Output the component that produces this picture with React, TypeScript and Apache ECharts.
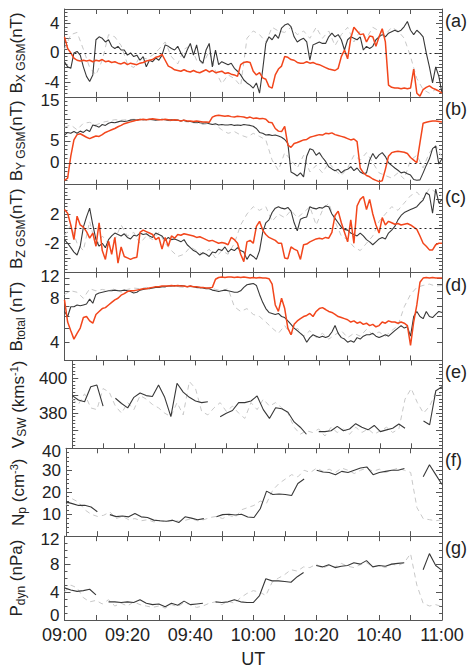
import React, { useEffect, useRef } from 'react';
import * as echarts from 'echarts';

const FONT = '"Liberation Sans", Arial, sans-serif';
const INK = '#222222';
const FRAME = '#555555';
const BLACK_LINE = '#383838';
const RED_LINE = '#f2461c';
const GRAY_LINE = '#c8c8c8';

const timeLabels = ['09:00', '09:20', '09:40', '10:00', '10:20', '10:40', '11:00'];

// (a) Bx GSM, 1-min samples (black, red) and 2-min samples (gray dashed)
const bxBlack = [
  -1.2, -1.9, -2.1, 0, 0.2, -0.3, -1.9, -3.2, -3.9, -3.0,
  1.8, 2.2, 2.0, 1.5, 1.8, 0.9, 0.6, 0.9, 0.4, 0.4,
  -0.3, 0, -0.5, -0.3, -1, -0.5, -1.9, -1, -1.2, -0.7,
  -1, -0.3, 1.1, 0.9, 0.6, 0.4, 0.9, 0, -0.7, 0.4,
  1.3, -0.3, 1.1, -1, -1.4, 0.4, 1.3, -1.9, 0.4, -1.6,
  -1.2, -1.4, -1.6, -1.4, -2.1, -2.5, -3, -3.7, -4.1, -4.4,
  -4.8, -4.1, -5.5, -2.3, 1.3, 2.2, 1.8, 2.5, 2, 3.4,
  3.8, 4, 3.6, 2.2, 1.5, 1.8, 2, 1.5, -1, 1.1,
  1.3, 1.5, 1.3, 1.3, 2.2, 2.7, 2.2, 2.5, 1.8, 0.4,
  1.8, 2.2, 2, 1.8, 2.2, 0.4, 0.9, 0.6, 0.9, 1.8,
  2.2, 2.5, 2.2, 2.7, 2.9, 3.1, 2.9, 3.1, 3.6, 4.3,
  3.1, 2.5, 3.1, 2.7, 2.2, 0, -1.9, -4.1, -1.9, -3.2, -5.5,
];
const bxRed = [
  2.2, 0.6, 0, -0.7, -1, -1.1, -1, -1.1, -1, -1.2,
  -1, -1.1, -0.9, -1.2, -1.1, -1.3, -1.2, -1.4, -1.5, -1.3,
  -1.6, -1.4, -1.5, -1.6, -1.4, -1.3, -1.1, -1.0, -0.9, -0.6,
  -0.5, -0.2, -1.0, -1.8, -2.0, -2.3, -2.4, -2.5, -2.3, -2.5,
  -2.6, -2.4, -2.6, -2.7, -2.5, -2.3, -2.6, -2.4, -2.7, -2.6,
  -2.5, -2.8, -2.7, -2.9, -3.0, -3.2, -1.6, -1.3, -1.2, -1.3,
  -2.5, -3.0, -2.7, -3.4, -3.6, -4.6, -4.8, -3.0, -2.2, -1.8,
  -0.5, -0.6, -0.9, -1.0, -1.3, -1.4, -1.4, -1.2, -1.4, -1.3,
  -1.5, -1.6, -1.8, -2.0, -2.2, -2.3, -2.4, -2.1, -0.5, 0.4,
  -0.8, 2.0, 3.5, 3.0, 2.5, 2.6, 1.5, 2.3, 2.2, 0.9,
  2.2, 3.3, 1.5, -4.4, -4.7, -4.8, -4.8, -4.9, -4.8, -4.9,
  -4.8, -2.2, -5.5, -5.9, -5.0, -4.7, -4.5, -4.8, -5.0, -5.2, -5.5,
];
const bxGray = [
  0.5, 2.5, 2.8, 0.5, -2, -3, -1, 2.5, 2.2, 1.0,
  -1.5, -2, -0.5, -0.8, -0.3, 0.5, 1.5, -0.5, -1.5, 0.5,
  1.0, -1.0, -1.5, 0.2, -2.5, -4.2, -3, -3.5, -4.5, 2.0,
  3.0, 2.5, 1.5, 3.5, 3.0, 2.8, 3.5, 2.5, 3.0, 2.0,
  3.5, 2.0, 3.0, 1.0, 2.5, 3.5, 1.5, 3.0, 2.0, 3.5,
  3.0, 2.5, 3.5, 3.0, 2.0, -0.5, -3.5, -5.0, -5.5, -5.0,
  -5.5,
];

// (b) By GSM
const byBlack = [
  6.3, 6.9, 6.7, 7.1, 6.7, 7.2, 6.9, 7.5, 7.1, 8.6,
  8.4, 8.1, 8.7, 8.5, 9.0, 9.2, 9.1, 9.3, 9.5, 9.4,
  9.5, 9.7, 9.8, 9.7, 9.9, 9.8, 9.8, 9.9, 9.8, 9.7,
  9.8, 9.9, 9.8, 9.7, 9.8, 9.7, 9.7, 9.5, 9.7, 9.4,
  9.4, 9.2, 9.3, 9.1, 9.0, 9.1, 8.9, 8.7, 8.9, 8.6,
  8.7, 8.6, 8.6, 8.7, 8.5, 8.6, 8.5, 8.7, 8.6, 8.5,
  8.3, 7.8, 6.9, 6.7, 6.3, 6.4, 6.2, 6.3, 6.1, 5.8,
  5.3, 4.4, -2.1, -2.5, -3.0, -2.3, -3.2, 1.5, 3.2, 2.9,
  1.7, 2.3, 1.2, 0.3, -0.9, -1.4, -1.8, -1.5, -2.3, -1.7,
  -1.5, -0.9, -1.8, -1.2, -2.1, -2.5, -2.3, 0.6, 2.1, 0.9,
  1.8, 2.3, 1.4, 0, -0.6, -1.2, -1.7, -2.3, -2.1, -2.5,
  -2.8, -3.8, -4.0, -3.9, -2.3, -0.6, 0.9, 3.2, 3.8, -0.3, 0.9,
];
const byRed = [
  -4.0, -3.5, 1.5, 5.2, 6.4, 6.6, 6.2, 5.8, 5.5, 5.8,
  6.1, 6.0, 6.4, 6.9, 7.2, 7.5, 7.8, 8.2, 8.5, 8.9,
  9.1, 9.3, 9.5, 9.7, 9.8, 9.9, 9.8, 9.9, 10.0, 9.9,
  9.8, 9.8, 9.9, 9.8, 9.7, 9.8, 9.7, 9.5, 9.7, 9.5,
  9.5, 9.4, 9.5, 9.4, 9.3, 9.3, 9.2, 10.4, 10.7, 10.8,
  10.7, 10.6, 10.7, 10.5, 10.4, 10.6, 10.5, 10.4, 10.2, 10.4,
  10.1, 10.2, 10.0, 10.1, 9.9, 9.2, 9.1, 7.8, 7.2, 7.1,
  8.3, 4.0, 3.5, 4.4, 4.6, 4.9, 5.2, 5.3, 5.8, 6.0,
  6.2, 6.4, 6.3, 6.7, 6.6, 6.8, 6.4, 6.2, 6.0, 5.8,
  5.5, 5.2, 5.4, 4.8, -1.2, -2.3, -2.9, -3.2, -3.7, -4.0,
  -4.3, -4.1, -1.5, 1.5, 2.3, 2.5, 2.6, 2.5, 2.4, 2.1,
  1.2, 0.6, 0, 4.6, 9.0, 9.2, 9.4, 9.5, 9.5, 9.4, 9.3,
];
const byGray = [
  8.1, 8.6, 7.5, 9.0, 9.2, 8.6, 9.2, 9.5, 9.8, 9.7,
  9.8, 9.9, 9.8, 9.7, 9.8, 9.9, 9.7, 9.5, 9.7, 9.4,
  9.2, 9.0, 8.7, 8.9, 8.6, 7.5, 6.7, 7.1, 6.3, 5.8,
  6.7, 6.0, 5.2, 0.6, -1.7, 2.3, 0.6, -1.2, 1.7, -2.1,
  -0.6, -2.3, 0.0, -1.7, -2.9, -1.2, 1.7, 0.6, 2.3, 0.0,
  -2.3, -2.9, -3.5, -2.3, -3.7, 0.6, 1.7, -1.2, 2.3, 4.0,
  1.2,
];

// (c) Bz GSM
const bzBlack = [
  -1.5, -2.0, -2.6, -3.2, -3.6, -2.4, 0.2, 1.6, 2.8, 0.5,
  -1.5, -2.4, -2.0, -2.6, -1.5, -1.0, -0.6, -0.8, -1.0, -0.7,
  -1.2, -1.4, -0.9, -1.0, -0.6, -0.8, -0.7, -1.0, -1.2, -0.6,
  -0.8, -1.0, -1.6, -1.2, -1.5, -1.4, -1.6, -1.8, -1.5, -2.2,
  -2.6, -3.0, -3.2, -3.6, -3.3, -3.5, -3.8, -3.2, -3.3, -2.8,
  -3.0, -2.5, -3.2, -2.8, -3.0, -2.6, -3.0, -3.2, -4.2, -3.5,
  -3.8, -4.2, -3.0, -0.5, 0.8, 1.2, 2.2, 2.8, 3.0, 2.8,
  2.7, 2.9, 2.4, 0.8, -0.3, 1.3, 1.5, 1.6, 3.0, 2.8,
  2.7, 2.9, 2.8, 3.1, 3.0, 2.0, 1.4, 0.8, 0.2, -0.1,
  -0.2, -0.6, -0.8, -1.0, -0.6, -1.0, -1.5, -1.8, -2.2, -1.8,
  -1.4, -1.2, -1.4, -0.6, -0.2, 0.3, 1.2, 1.8, 2.2, 2.4,
  2.6, 2.8, 3.0, 3.5, 3.9, 4.9, 4.6, 2.1, 5.4, 3.5, 4.0,
];
const bzRed = [
  2.6, 2.1, 0.5, -1.5, 1.7, 0.5, 0.2, -0.4, -1.3, -0.6,
  -2.4, 0.8, -3.0, -4.2, -1.7, -3.5, -1.2, -4.7, -2.5, -3.8,
  -4.0, -4.2, -4.0, -3.9, -0.5, -0.2, -0.4, -0.6, -0.8, -1.5,
  -1.2, -2.8, -1.2, -2.4, -1.0, -1.3, -0.8, -0.9, -0.7, -0.8,
  -0.9, -1.0, -1.2, -1.1, -1.3, -1.5, -1.7, -1.6, -1.8, -2.0,
  -1.9, -2.0, -2.2, -1.2, -1.5, -2.0, -3.5, -4.5, -1.8, -1.6,
  -2.0, 0.3, 1.0, -0.2, -0.8, -1.2, -1.4, -1.6, -2.0, -2.0,
  -4.0, -4.1, -2.5, -2.8, -3.0, -4.2, -2.2, -2.1, -1.8, -1.6,
  -1.4, -1.3, -1.4, -1.2, -1.3, -0.5, 1.8, 2.4, 0.8, -0.5,
  -1.8, 1.2, -2.0, 3.1, 4.0, 4.4, 2.6, 4.0, 2.0, 0.5,
  -0.6, 1.5, 0.5, 1.0, 0.8, 0.6, 0.7, 0.5, 0.6, 0.7,
  0.5, 0.2, -0.1, -1.0, -2.0, -2.4, -2.9, -2.9, -2.2, -2.0, -2.0,
];
const bzGray = [
  -1.0, 0.5, -2.0, -3.0, 1.0, -2.5, -1.0, -2.0, -1.5, 0.5,
  -1.0, -0.5, -2.0, -1.0, -1.5, -0.5, -2.0, -3.0, -3.8, -3.5,
  -2.5, -3.0, -3.5, -2.8, -4.0, -3.0, -3.5, -2.0, 0.5, 2.0,
  3.0, 2.5, 3.0, 1.0, 2.0, 1.5, 2.5, 1.5, 2.2, 3.0,
  0.5, 2.5, 3.5, 1.0, -1.0, -1.5, -2.5, -3.0, -2.0, -1.0,
  1.0, 2.0, 3.0, 2.5, 3.5, 4.5, 5.0, 4.0, 5.5, 5.0,
  4.5,
];

// (d) |B| total
const btBlack = [
  6.5, 6.0, 7.0, 7.0, 7.2, 7.1, 7.2, 7.3, 7.9, 7.4,
  8.5, 8.7, 8.8, 8.9, 9.0, 9.0, 9.1, 9.0, 9.0, 9.1,
  9.0, 8.9, 8.7, 8.8, 9.1, 9.2, 9.3, 9.3, 9.4, 9.5,
  9.5, 9.6, 9.6, 9.7, 9.7, 9.8, 9.7, 9.8, 9.7, 9.6,
  9.7, 9.6, 9.5, 9.5, 9.4, 9.3, 9.3, 9.1, 9.0, 8.9,
  9.0, 9.1, 9.0, 8.9, 8.8, 8.8, 9.0, 9.5, 9.9, 10.0,
  10.1, 9.8, 8.5, 7.5, 6.8, 6.4, 6.3, 6.2, 6.3, 6.0,
  5.9, 5.6, 5.3, 5.0, 4.8, 4.6, 4.4, 4.0, 4.3, 4.5,
  4.4, 4.3, 4.4, 4.3, 4.4, 4.7, 5.2, 4.6, 4.3, 4.2,
  4.0, 4.1, 4.0, 4.3, 4.2, 4.4, 4.5, 4.5, 4.6, 4.4,
  4.3, 4.4, 4.5, 4.4, 4.6, 4.8, 5.0, 5.2, 5.0, 5.1,
  4.4, 6.0, 6.5, 6.0, 5.8, 6.5, 6.0, 5.9, 6.2, 6.5, 6.4,
];
const btRed = [
  7.8, 5.5, 4.8, 4.2, 4.6, 5.0, 5.9, 6.0, 5.6, 5.4,
  6.2, 6.5, 6.8, 6.9, 7.2, 7.5, 7.8, 8.0, 8.4, 8.6,
  8.9, 9.0, 9.0, 9.1, 9.2, 9.3, 9.3, 9.4, 9.5, 9.6,
  9.6, 9.7, 9.7, 9.7, 9.8, 9.7, 9.8, 9.7, 9.7, 9.6,
  9.7, 9.6, 9.6, 9.5, 9.5, 9.4, 9.4, 9.5, 10.8, 11.1,
  11.2, 11.1, 11.2, 11.2, 11.1, 11.2, 11.1, 11.2, 11.1, 11.0,
  11.1, 11.0, 11.1, 11.0, 11.0, 10.9, 10.0, 7.2, 6.5, 8.0,
  6.8, 5.0, 4.5, 5.3, 5.6, 5.8, 6.0, 6.1, 6.3, 6.0,
  6.5, 6.8, 6.9, 6.7, 6.5, 6.4, 6.2, 6.0, 5.9, 5.8,
  5.7, 5.5, 5.6, 5.4, 5.5, 5.3, 5.4, 5.2, 5.3, 5.1,
  5.2, 5.5, 5.4, 5.6, 5.5, 5.5, 5.4, 5.5, 5.4, 5.2,
  3.8, 5.5, 7.2, 10.3, 11.0, 11.1, 11.0, 11.1, 11.0, 11.0, 11.0,
];
const btGray = [
  8.5, 9.0, 8.8, 8.0, 9.3, 9.0, 9.2, 9.0, 9.3, 8.8,
  9.2, 9.4, 9.3, 9.5, 9.4, 9.6, 9.5, 9.7, 9.6, 9.5,
  9.6, 9.4, 9.3, 9.5, 9.2, 9.0, 9.3, 7.0, 6.5, 6.8,
  6.2, 6.0, 5.5, 5.0, 4.6, 5.2, 4.5, 5.0, 4.4, 4.8,
  4.3, 4.6, 4.2, 4.5, 4.8, 4.3, 4.6, 4.4, 4.9, 4.5,
  4.7, 4.4, 4.8, 5.2, 7.0, 8.5, 9.5, 9.8, 10.0, 9.7,
  9.8,
];

// (e) solar wind speed, 2-min samples (null = data gap)
const vswBlack = [
  390.0, 387.5, 386.5, 395, 396, 384, null, 388.5, 385.5, 383,
  389, 391.5, 390, 389.5, 396, 389, 378, 397, 392, 389,
  386.9, 386, 386.5, null, 378, 380, 381.5, 386, 386, 386.9,
  389.8, 382, 377, 383.1, 382.5, 380.5, 375, 372, 368, null,
  369.5, 369.5, 370, 372.5, 370, 371, 374, 372, 370.5, 373,
  369.5, 370.5, 371.4, 373.8, 371.4, null, null, 375.5, 373.4, 392.8,
  395,
];
const vswGray = [
  388, 385, 391, 383, 382, 394, 392, 384, 380, 386,
  382, 390, 388, 385, 383, 380, 378, 386, 379, 398,
  394, 381, 379, 383, 386, 381, 384, 380, 377, 386,
  382, 388, 384, 386, 383, 380, 372, 368, 370, 369,
  371, 367, 372, 369, 371, 368, 372, 369, 371, 368,
  370, 372, 369, 371, 388, 394, 386, 380, 384, 392,
  390,
];

// (f) proton density
const npBlack = [
  15.6, 14.8, 14.0, 14.1, 13.3, 11.1, null, 9.8, 8.9, 9.2,
  8.8, 10.3, 8.8, 8.5, 7.3, 7.0, 6.8, 7.2, 6.2, 8.8,
  8.2, 7.5, 8.0, null, 8.8, 9.8, 10.0, 9.6, 10.0, 8.7,
  8.5, 12.5, 20.5, 19.0, 19.2, 19.0, 18.5, 24.0, 26.0, null,
  30.0, 29.2, 29.0, 28.0, 29.5, 29.0, 30.0, 31.0, 31.5, 28.0,
  29.0, 29.5, 30.0, 30.0, 30.8, null, null, 27.0, 32.5, 28.0,
  23.5,
];
const npGray = [
  14, 17, 15.5, 12, 10, 9, 9.5, 11, 8, 9,
  7.5, 8, 7, 7.5, 6.5, 7, 6.5, 7.5, 6.8, 7.2,
  8, 7, 7.5, 8.5, 9, 8, 9.5, 8.5, 12, 13,
  14, 16, 15, 21, 24, 26, 28, 27, 30, 29,
  31, 29.5, 30.5, 29, 31, 30, 28.5, 30, 31, 29.5,
  30.5, 29, 30, 31, 30, 29, 13, 8, 7.5, 7,
  7.5,
];

// (g) dynamic pressure
const pdynBlack = [
  4.6, 4.3, 4.1, 4.2, 4.4, 3.6, null, 2.6, 2.6, 2.5,
  2.6, 2.5, 2.9, 2.4, 2.2, 2.3, 1.9, 2.4, 2.1, 2.7,
  2.2, 2.3, 2.4, null, 2.6, 2.5, 2.6, 2.9, 2.6, 2.5,
  2.5, 3.5, 5.9, 5.6, 5.6, 5.5, 5.4, 6.2, 6.8, null,
  7.8, 7.6, 7.9, 7.5, 7.7, 7.8, 8.2, 8.0, 8.5, 7.6,
  7.8, 7.7, 8.0, 8.1, 8.2, null, null, 7.2, 9.5, 7.8,
  7.1,
];
const pdynGray = [
  4.0, 5.0, 4.6, 3.2, 2.6, 2.8, 2.3, 2.9, 2.0, 2.4,
  2.0, 2.6, 2.2, 2.0, 1.8, 2.0, 1.7, 2.2, 1.9, 2.5,
  2.2, 1.8, 2.0, 2.4, 2.6, 2.2, 2.7, 2.4, 3.2, 3.8,
  4.2, 4.0, 3.5, 5.4, 6.0, 6.5, 7.2, 7.0, 7.6, 7.5,
  8.0, 7.4, 7.8, 7.6, 8.1, 7.7, 7.5, 7.9, 8.2, 7.6,
  7.8, 7.5, 8.0, 7.8, 8.2, 9.5, 5.0, 2.4, 2.0, 2.2,
  1.9,
];

// tick labels on the left axes
const bxTicks = [-4, 0, 4];
const byTicks = [0, 5, 15];
const bzTicks = [-2, 2];
const btTicks = [4, 8, 12];
const btMinorTicks = [3, 4, 5, 6, 7, 8, 9, 10, 11, 12];
const vswTicks = [380, 400];
const npTicks = [10, 20, 30, 40];
const pdynTicks = [0, 4, 8, 12];

type Panel = {
  letter: string;
  name: string;
  min: number;
  max: number;
  log?: boolean;
  interval?: number;
  minor?: number;
  labels: number[];
  zero?: boolean;
  black: (number | null)[];
  blackStep: number;
  red?: number[];
  gray: number[];
};

const panels: Panel[] = [
  { letter: 'a', name: '{m|B}{s|X GSM}{m|(nT)}', min: -6, max: 6, interval: 2, minor: 4, labels: bxTicks, zero: true, black: bxBlack, blackStep: 1, red: bxRed, gray: bxGray },
  { letter: 'b', name: '{m|B}{s|Y GSM}{m|(nT)}', min: -5, max: 15, interval: 5, minor: 5, labels: byTicks, zero: true, black: byBlack, blackStep: 1, red: byRed, gray: byGray },
  { letter: 'c', name: '{m|B}{s|Z GSM}{m|(nT)}', min: -6, max: 6, interval: 2, minor: 4, labels: bzTicks, zero: true, black: bzBlack, blackStep: 1, red: bzRed, gray: bzGray },
  { letter: 'd', name: '{m|B}{s|total}{m| (nT)}', min: 3, max: 12, log: true, labels: btTicks, black: btBlack, blackStep: 1, red: btRed, gray: btGray },
  { letter: 'e', name: '{m|V}{s|SW}{m| (kms}{p|-1}{m|)}', min: 360, max: 410, interval: 10, minor: 5, labels: vswTicks, black: vswBlack, blackStep: 2, gray: vswGray },
  { letter: 'f', name: '{m|N}{s|p}{m| (cm}{p|-3}{m|)}', min: 0, max: 40, interval: 10, minor: 5, labels: npTicks, black: npBlack, blackStep: 2, gray: npGray },
  { letter: 'g', name: '{m|P}{s|dyn}{m| (nPa)}', min: 0, max: 12, interval: 4, minor: 4, labels: pdynTicks, black: pdynBlack, blackStep: 2, gray: pdynGray },
];

const TOP = 9;
const H = 87.86;
const LEFT = 62;
const RIGHT = 31;

const toPairs = (arr: (number | null)[], step: number) =>
  arr.map((v, i) => [i * step, v === null ? '-' : v]);

const nameRich = {
  m: { fontSize: 17, lineHeight: 20, fontFamily: FONT, color: INK },
  s: { fontSize: 12, lineHeight: 12, verticalAlign: 'bottom', fontFamily: FONT, color: INK },
  p: { fontSize: 11, lineHeight: 11, verticalAlign: 'top', fontFamily: FONT, color: INK },
};

// tick-label styles: labels at the panel top sit a little lower,
// the label at the panel bottom a little higher, as on the plotted frame
const tickText = { fontSize: 17, fontFamily: FONT, color: INK };
const tickRich = {
  n: { ...tickText },
  t: { ...tickText, padding: [7, 0, 0, 0] },
  b: { ...tickText, padding: [0, 0, 10, 0] },
};

function buildOption() {
  const grid: any[] = [];
  const xAxis: any[] = [];
  const yAxis: any[] = [];
  const series: any[] = [];
  const graphic: any[] = [];
  const line = { lineStyle: { color: FRAME, width: 1 } };

  panels.forEach((p, i) => {
    const last = i === panels.length - 1;
    grid.push({ left: LEFT, right: RIGHT, top: TOP + i * H, height: H });

    const xBase = {
      type: 'value', gridIndex: i, min: 0, max: 120, interval: 10,
      axisLine: { show: true, onZero: false, ...line },
      axisTick: { show: true, inside: true, length: 5, ...line },
      splitLine: { show: false },
    };
    xAxis.push({
      ...xBase,
      position: 'bottom',
      axisLabel: last
        ? {
            show: true, fontSize: 18, fontFamily: FONT, color: INK, margin: 6,
            customValues: timeLabels.map((_, k) => k * 20),
            formatter: (v: number) => timeLabels[Math.round(v / 20)] ?? '',
          }
        : { show: false },
      name: last ? 'UT' : '',
      nameLocation: 'middle',
      nameGap: 30,
      nameTextStyle: { fontSize: 18, fontFamily: FONT, color: INK },
    });
    xAxis.push({ ...xBase, position: 'top', axisLabel: { show: false } });

    const yBase: any = {
      type: p.log ? 'log' : 'value', gridIndex: i, min: p.min, max: p.max,
      axisLine: { show: true, onZero: false, ...line },
      splitLine: { show: false },
    };
    if (p.log) {
      yBase.logBase = 10;
      yBase.axisTick = { show: true, inside: true, length: 5, customValues: btMinorTicks, ...line };
    } else {
      yBase.interval = p.interval;
      yBase.axisTick = { show: true, inside: true, length: 6, ...line };
      yBase.minorTick = { show: true, splitNumber: p.minor, length: 3, ...line };
    }
    yAxis.push({
      ...yBase,
      position: 'left',
      axisLabel: {
        show: true, customValues: p.labels, ...tickText, margin: 5,
        rich: tickRich,
        formatter: (v: number) => {
          const r = Math.round(v);
          if (Math.abs(r - p.max) < 1e-6) return `{t|${r}}`;
          if (Math.abs(r - p.min) < 1e-6) return `{b|${r}}`;
          return `{n|${r}}`;
        },
      },
      name: p.name,
      nameLocation: 'middle',
      nameRotate: 90,
      nameGap: 38,
      nameTextStyle: { rich: nameRich },
    });
    yAxis.push({ ...yBase, position: 'right', axisLabel: { show: false } });

    const common = {
      type: 'line', xAxisIndex: 2 * i, yAxisIndex: 2 * i,
      showSymbol: false, symbol: 'none', silent: true, connectNulls: false,
    };
    series.push({
      ...common,
      name: `gray-${p.letter}`,
      data: toPairs(p.gray, 2),
      lineStyle: { color: GRAY_LINE, width: 1, type: [5, 4] },
      z: 1,
    });
    series.push({
      ...common,
      name: `black-${p.letter}`,
      data: toPairs(p.black, p.blackStep),
      lineStyle: { color: BLACK_LINE, width: 1.1 },
      z: 2,
      markLine: p.zero
        ? {
            silent: true, symbol: ['none', 'none'], label: { show: false },
            lineStyle: { color: '#222', type: [2, 3], width: 1 },
            data: [{ yAxis: 0 }],
          }
        : undefined,
    });
    if (p.red) {
      series.push({
        ...common,
        name: `red-${p.letter}`,
        data: toPairs(p.red, 1),
        lineStyle: { color: RED_LINE, width: 1.5 },
        z: 3,
      });
    }

    graphic.push({
      type: 'text', left: 445, top: TOP + i * H + 3,
      style: { text: `(${p.letter})`, fontSize: 18, fontFamily: FONT, fill: INK },
    });
  });

  return {
    animation: false,
    backgroundColor: '#ffffff',
    grid, xAxis, yAxis, series, graphic,
  };
}

export default function App() {
  const ref = useRef<HTMLDivElement>(null);
  useEffect(() => {
    if (!ref.current) return;
    const chart = echarts.init(ref.current, null, { renderer: 'svg' });
    chart.setOption(buildOption() as any);
    return () => chart.dispose();
  }, []);
  return (
    <div
      ref={ref}
      style={{ position: 'fixed', left: 0, top: 0, width: 473, height: 669, background: '#fff' }}
    />
  );
}
